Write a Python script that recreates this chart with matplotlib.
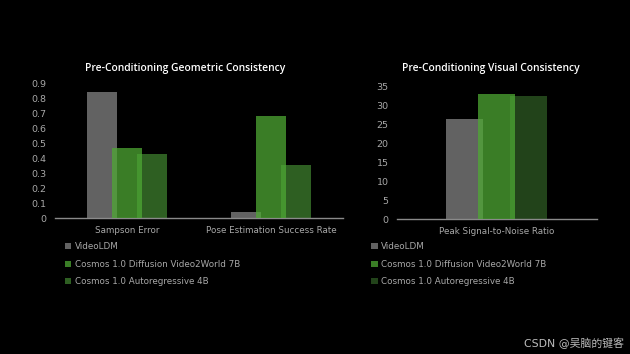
import numpy as np
import matplotlib.pyplot as plt

plt.rcParams['font.family'] = ['DejaVu Sans', 'Noto Sans CJK SC']

series = ["VideoLDM", "Cosmos 1.0 Diffusion Video2World 7B", "Cosmos 1.0 Autoregressive 4B"]

geo_categories = ["Sampson Error", "Pose Estimation Success Rate"]
geo_videoldm = [0.84, 0.04]
geo_diffusion = [0.47, 0.68]
geo_autoreg = [0.43, 0.355]

vis_categories = ["Peak Signal-to-Noise Ratio"]
vis_videoldm = [26.2]
vis_diffusion = [32.9]
vis_autoreg = [32.4]

BG = "#000000"
TXT = "#a8a8a8"
GRAY = "#626262"
GREEN = "#4ea834"  # drawn with alpha so the overlap with grey looks lighter


def draw(ax, cats, v1, v2, v3, ymax, ystep, dark, width, offset):
    x = np.arange(len(cats))
    ax.bar(x - offset, v1, width, color=GRAY, zorder=1, label=series[0])
    ax.bar(x + offset, v3, width, color=dark, zorder=2, label=series[2])
    ax.bar(x, v2, width, color=GREEN, alpha=0.75, zorder=3, label=series[1])
    ax.set_facecolor(BG)
    ax.set_xlim(-0.5, len(cats) - 0.5)
    ax.set_ylim(0, ymax)
    ticks = np.arange(0, ymax + ystep / 2, ystep)
    ax.set_yticks(ticks)
    ax.set_yticklabels([f"{t:g}" for t in ticks])
    ax.set_xticks(x)
    ax.set_xticklabels(cats)
    for s in ["top", "right", "left"]:
        ax.spines[s].set_visible(False)
    ax.spines["bottom"].set_color("#8a8a8a")
    ax.spines["bottom"].set_linewidth(1.0)
    ax.tick_params(axis="x", length=0, colors=TXT, labelsize=6.3, pad=6)
    ax.tick_params(axis="y", length=0, colors=TXT, labelsize=6.8, pad=6)
    h, l = ax.get_legend_handles_labels()
    order = [0, 2, 1]
    return [h[i] for i in order], [l[i] for i in order]


fig = plt.figure(figsize=(6.3, 3.54), dpi=100, facecolor=BG)
title_font = dict(color="white", fontsize=7.4, fontweight="semibold",
                  family=["Open Sans", "DejaVu Sans"])

ax1 = fig.add_axes([0.0873, 0.384, 0.457, 0.381])
h, l = draw(ax1, geo_categories, geo_videoldm, geo_diffusion, geo_autoreg,
            0.9, 0.1, "#2e5f22", 0.21, 0.175)
ax1.set_title("Pre-Conditioning Geometric Consistency", x=0.453, pad=9,
              **title_font)
ax1.legend(h, l, loc="upper left", bbox_to_anchor=(0.098, 0.325),
           bbox_transform=fig.transFigure, frameon=False, fontsize=6.3,
           labelcolor=TXT, handlelength=0.7, handleheight=0.7,
           handletextpad=0.4, labelspacing=0.95, borderaxespad=0)

ax2 = fig.add_axes([0.630, 0.381, 0.317, 0.376])
h, l = draw(ax2, vis_categories, vis_videoldm, vis_diffusion, vis_autoreg,
            35, 5, "#22431a", 0.185, 0.16)
ax2.set_title("Pre-Conditioning Visual Consistency", x=0.47, pad=11,
              **title_font)
ax2.legend(h, l, loc="upper left", bbox_to_anchor=(0.584, 0.325),
           bbox_transform=fig.transFigure, frameon=False, fontsize=6.3,
           labelcolor=TXT, handlelength=0.7, handleheight=0.7,
           handletextpad=0.4, labelspacing=0.95, borderaxespad=0)

fig.text(0.99, 0.03, "CSDN @吴脑的键客", color="#bdbdbd", fontsize=7.8,
         ha="right", va="center", family=["DejaVu Sans", "Noto Sans CJK SC"])

fig.savefig("out.png", dpi=100, facecolor=BG)
